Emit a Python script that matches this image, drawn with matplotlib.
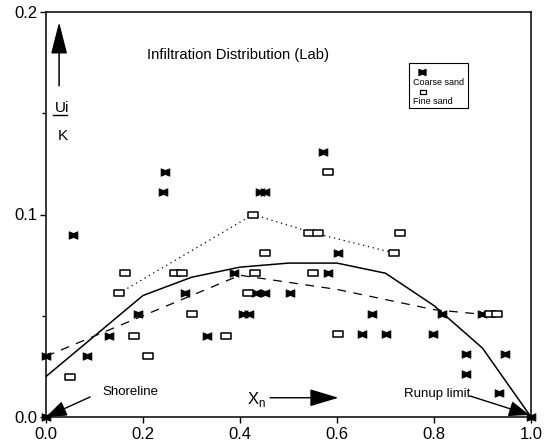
import matplotlib
matplotlib.use("Agg")
import matplotlib.pyplot as plt
from matplotlib.path import Path
from matplotlib.patches import Rectangle

plt.rcParams['font.family'] = ['Liberation Sans', 'DejaVu Sans']

# ---- data ----
coarse_x = [0.0, 0.056, 0.084, 0.13, 0.189, 0.241, 0.246, 0.287, 0.331, 0.388,
            0.407, 0.419, 0.433, 0.451, 0.441, 0.452, 0.503, 0.572, 0.582, 0.603,
            0.651, 0.673, 0.701, 0.797, 0.816, 0.867, 0.867, 0.899, 0.935, 0.946,
            1.0, 0.0]
coarse_y = [0.030, 0.090, 0.030, 0.040, 0.051, 0.111, 0.121, 0.061, 0.040, 0.071,
            0.051, 0.051, 0.061, 0.061, 0.111, 0.111, 0.061, 0.131, 0.071, 0.081,
            0.041, 0.051, 0.041, 0.041, 0.051, 0.031, 0.021, 0.051, 0.012, 0.031,
            0.0, 0.0]

fine_x = [0.049, 0.150, 0.163, 0.181, 0.211, 0.265, 0.280, 0.302, 0.372, 0.417,
          0.431, 0.427, 0.452, 0.543, 0.561, 0.551, 0.581, 0.603, 0.718, 0.730,
          0.915, 0.930]
fine_y = [0.020, 0.061, 0.071, 0.040, 0.030, 0.071, 0.071, 0.051, 0.040, 0.061,
          0.071, 0.100, 0.081, 0.091, 0.091, 0.071, 0.121, 0.041, 0.081, 0.091,
          0.051, 0.051]

mean_x = [0.0, 0.1, 0.2, 0.3, 0.4, 0.5, 0.6, 0.7, 0.8, 0.9, 1.0]
mean_y = [0.020, 0.040, 0.060, 0.069, 0.074, 0.076, 0.076, 0.071, 0.055, 0.034, 0.0]

coarse_fit_x = [0.0, 0.1, 0.2, 0.3, 0.4, 0.6, 0.8, 0.93]
coarse_fit_y = [0.030, 0.040, 0.050, 0.060, 0.070, 0.063, 0.053, 0.050]

fine_fit_x = [0.15, 0.427, 0.55, 0.718]
fine_fit_y = [0.061, 0.100, 0.091, 0.081]

x_ticks = [0.0, 0.2, 0.4, 0.6, 0.8, 1.0]
x_tick_labels = ['0.0', '0.2', '0.4', '0.6', '0.8', '1.0']
y_ticks = [0.0, 0.1, 0.2]
y_tick_labels = ['0.0', '0.1', '0.2']

# ---- markers ----
bowtie = Path([(-1, -0.85), (0, -0.45), (1, -0.85), (1, 0.85), (0, 0.45), (-1, 0.85), (-1, -0.85)],
              [Path.MOVETO] + [Path.LINETO] * 5 + [Path.CLOSEPOLY])
rect = Path([(-1, -0.6), (1, -0.6), (1, 0.6), (-1, 0.6), (-1, -0.6)],
            [Path.MOVETO] + [Path.LINETO] * 3 + [Path.CLOSEPOLY])

fig = plt.figure(figsize=(5.51, 4.42), dpi=100)
ax = fig.add_axes([46 / 551, 25 / 442, 485 / 551, 405 / 442])

ax.plot(mean_x, mean_y, color='black', lw=1.1, zorder=2)
ax.plot(coarse_fit_x, coarse_fit_y, color='black', lw=0.9, dashes=(7, 6), zorder=2)
ax.plot(fine_fit_x, fine_fit_y, color='black', lw=0.9, ls=(0, (1, 3)), zorder=2)

ax.plot(coarse_x, coarse_y, ls='none', marker=bowtie, ms=6.3, color='black',
        mec='black', mew=0.6, zorder=3, clip_on=False)
ax.plot(fine_x, fine_y, ls='none', marker=rect, ms=6.5, mfc='white',
        mec='black', mew=1.1, zorder=3, clip_on=False)

ax.set_xlim(0, 1.0)
ax.set_ylim(0, 0.2)
ax.set_xticks(x_ticks)
ax.set_xticklabels(x_tick_labels)
ax.set_yticks(y_ticks)
ax.set_yticklabels(y_tick_labels)
ax.set_yticks([0.05, 0.15], minor=True)
ax.tick_params(axis='both', which='major', direction='out', length=4, width=1,
               labelsize=12, pad=2)
ax.tick_params(axis='y', which='minor', direction='out', length=3, width=1)
ax.tick_params(axis='x', pad=3)
for s in ax.spines.values():
    s.set_linewidth(1.1)

# title
ax.text(0.395, 0.895, 'Infiltration Distribution (Lab)', transform=ax.transAxes,
        ha='center', va='center', fontsize=10.6)

# y label with arrow
ax.annotate('', xy=(0.027, 0.975), xytext=(0.027, 0.818), xycoords='axes fraction',
            arrowprops=dict(arrowstyle='-|>,head_length=1.1,head_width=0.28',
                            mutation_scale=18, lw=1.1, color='black', shrinkA=0, shrinkB=0))
ax.text(0.033, 0.762, 'Ui', transform=ax.transAxes, ha='center', va='center', fontsize=11)
ax.plot([0.014, 0.044], [0.745, 0.745], transform=ax.transAxes, color='black', lw=1)
ax.text(0.035, 0.695, 'K', transform=ax.transAxes, ha='center', va='center', fontsize=11)

# legend (drawn manually: symbol above label)
ax.add_patch(Rectangle((0.748, 0.763), 0.122, 0.111, transform=ax.transAxes,
                       fill=False, lw=0.8, ec='black', zorder=4))
ax.plot([0.776], [0.853], transform=ax.transAxes, marker=bowtie, ms=5, color='black', ls='none')
ax.text(0.757, 0.826, 'Coarse sand', transform=ax.transAxes, fontsize=6.5, va='center', ha='left')
ax.plot([0.778], [0.803], transform=ax.transAxes, marker=rect, ms=5, mfc='white',
        mec='black', mew=0.9, ls='none')
ax.text(0.757, 0.779, 'Fine sand', transform=ax.transAxes, fontsize=6.5, va='center', ha='left')

# annotations
arrow = dict(arrowstyle='-|>,head_length=0.8,head_width=0.3', mutation_scale=16,
             lw=1, color='black', shrinkA=0, shrinkB=0)
ax.annotate('', xy=(0.0, 0.0), xytext=(0.091, 0.0099), arrowprops=arrow,
            annotation_clip=False)
ax.text(0.116, 0.0122, 'Shoreline', fontsize=9.5, ha='left', va='center')

ax.annotate('', xy=(0.997, 0.001), xytext=(0.874, 0.0104), arrowprops=arrow,
            annotation_clip=False)
ax.text(0.874, 0.0114, 'Runup limit', fontsize=9.5, ha='right', va='center')

ax.text(0.434, 0.0085, r'X$_\mathregular{n}$', fontsize=12, ha='center', va='center')
ax.annotate('', xy=(0.603, 0.0095), xytext=(0.462, 0.0095),
            arrowprops=dict(arrowstyle='-|>,head_length=1.0,head_width=0.3',
                            mutation_scale=18, lw=1, color='black', shrinkA=0, shrinkB=0))

fig.savefig('out.png', dpi=100)
